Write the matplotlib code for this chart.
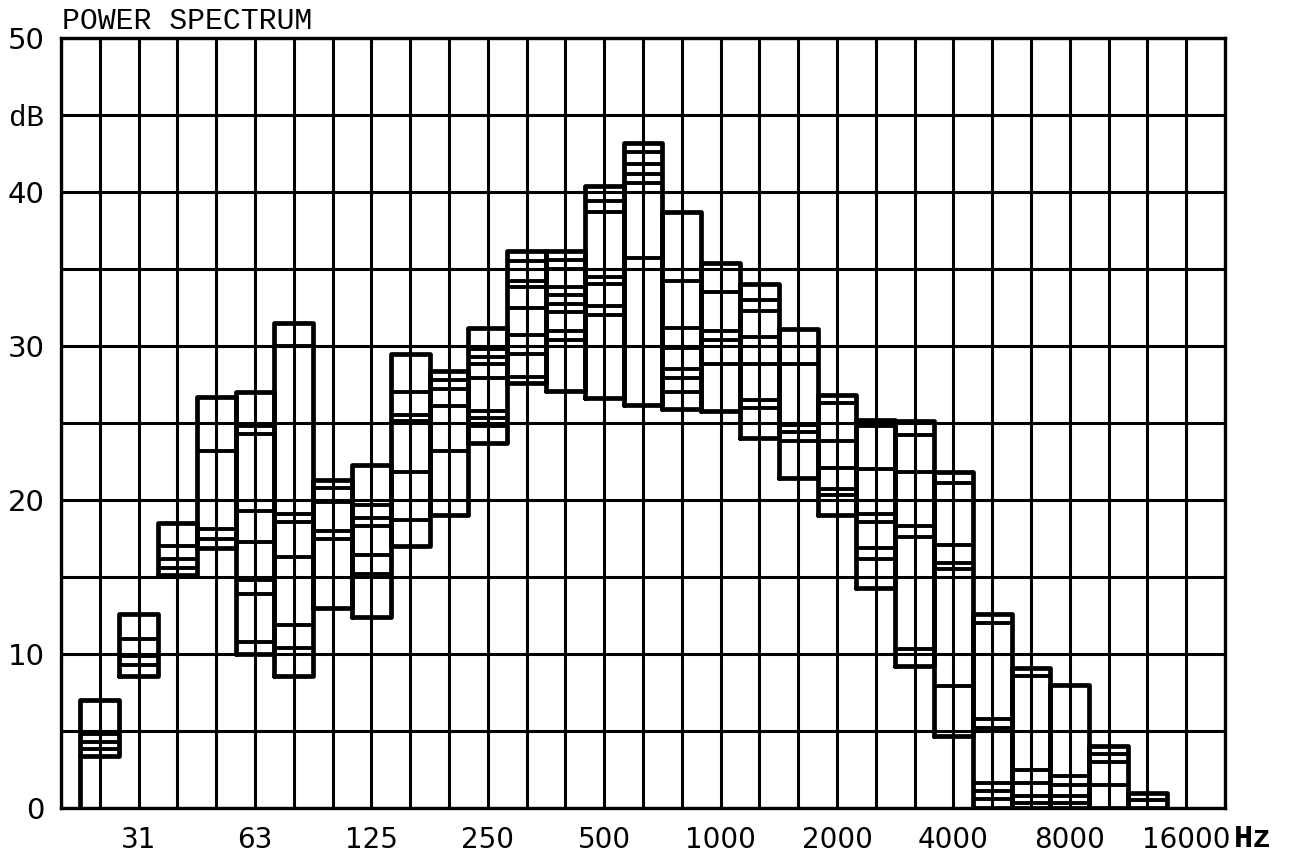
import matplotlib
matplotlib.use("Agg")
import matplotlib.pyplot as plt

# third-octave bands, 25 Hz .. 12.5 kHz
bands = ['25', '31.5', '40', '50', '63', '80', '100', '125', '160', '200',
         '250', '315', '400', '500', '630', '800', '1000', '1250', '1600', '2000',
         '2500', '3150', '4000', '5000', '6300', '8000', '10000', '12500']

# octave labels on the axis
octave_labels = ['31', '63', '125', '250', '500', '1000', '2000', '4000', '8000', '16000']

# highest and lowest level of every band (dB)
top_db = [7.0, 12.6, 18.5, 26.7, 27.0, 31.5, 21.3, 22.3, 29.5, 28.4,
          31.2, 36.2, 36.2, 40.4, 43.2, 38.7, 35.4, 34.0, 31.1, 26.8,
          25.2, 25.1, 21.8, 12.6, 9.1, 8.0, 4.0, 1.0]
bottom_db = [3.4, 8.6, 15.1, 16.9, 10.0, 8.6, 13.0, 12.4, 17.0, 19.0,
             23.7, 27.6, 27.1, 26.6, 26.2, 25.9, 25.8, 24.0, 21.4, 19.0,
             14.3, 9.2, 4.7, 0.0, 0.0, 0.0, 0.0, 0.0]

# levels of the other spectra in between
inner_db = [
    [4.8, 4.3, 3.8],
    [11.0, 9.9, 9.3],
    [17.0, 16.2, 15.6],
    [23.2, 18.1, 17.5],
    [24.8, 24.3, 19.3, 17.3, 14.8, 13.9, 10.8],
    [30.0, 19.1, 18.6, 16.3, 11.9, 10.4],
    [20.8, 19.9, 18.0, 17.5],
    [19.7, 18.8, 18.3, 16.4, 15.2],
    [27.0, 25.5, 25.1, 21.8, 18.7],
    [27.8, 27.2, 26.1, 23.2],
    [29.8, 29.3, 28.8, 27.9, 25.8, 25.3, 24.8],
    [35.5, 34.2, 33.8, 32.5, 30.7, 29.5, 28.0],
    [35.6, 35.0, 33.8, 33.3, 32.7, 32.2, 31.0, 30.4],
    [39.4, 38.7, 34.5, 34.0, 32.6, 32.0],
    [42.6, 41.8, 41.2, 40.6, 35.7],
    [34.2, 31.2, 29.9, 28.5, 27.9, 27.0],
    [33.5, 31.0, 30.4, 28.8],
    [33.0, 32.3, 30.6, 28.8, 26.5, 26.0],
    [28.8, 24.9, 24.4, 23.8],
    [26.3, 23.8, 22.1, 20.7, 20.3],
    [24.8, 22.0, 19.1, 18.6, 16.9, 16.2],
    [24.2, 21.8, 18.3, 17.6, 10.3],
    [21.1, 17.1, 15.9, 15.5, 7.9],
    [12.0, 5.8, 5.2, 1.6, 1.1, 0.6],
    [8.6, 2.5, 1.6, 0.8, 0.3],
    [2.1, 1.5, 0.8, 0.3],
    [3.5, 3.0, 1.5],
    [0.5],
]

W, H = 1292, 857
fig = plt.figure(figsize=(W / 100, H / 100), dpi=100)
ax = fig.add_axes([61 / W, 1 - 808 / H, (1225 - 61) / W, (808 - 38) / H])

n_cols = len(bands) + 2
ax.set_xlim(0, n_cols)
ax.set_ylim(0, 50)

# grid: one column per band, 5 dB rows
ax.set_xticks(range(n_cols + 1))
xlabels = [''] * (n_cols + 1)
for i, lab in enumerate(octave_labels):
    xlabels[2 + 3 * i] = lab
ax.set_xticklabels(xlabels, fontsize=20, family='DejaVu Sans')
ax.set_yticks(range(0, 55, 5))
ax.set_yticklabels(['0', '', '10', '', '20', '', '30', '', '40', 'dB', '50'],
                   fontsize=21, family='DejaVu Sans')
for lbl in ax.get_yticklabels():
    if lbl.get_text() == 'dB':
        lbl.set_family('Liberation Mono')
        lbl.set_fontsize(21)
ax.tick_params(length=0)
ax.tick_params(axis='y', pad=12)
ax.tick_params(axis='x', pad=13)
ax.grid(True, color='black', linewidth=2.2)
ax.set_axisbelow(True)
for s in ax.spines.values():
    s.set_linewidth(2.4)

lw = 3.4
for i in range(len(bands)):
    k = i + 1
    x0, x1 = k - 0.5, k + 0.5
    lo, hi = bottom_db[i], top_db[i]
    ax.plot([x0, x0, x1, x1, x0], [lo, hi, hi, lo, lo], color='black',
            linewidth=lw, solid_joinstyle='round', solid_capstyle='round', zorder=3)
    for v in inner_db[i]:
        ax.plot([x0, x1], [v, v], color='black', linewidth=lw - 0.6,
                solid_capstyle='butt', zorder=3)

# spectra start and end on the 0 dB line
ax.plot([0.5, 0.5], [0, bottom_db[0]], color='black', linewidth=lw, zorder=3)
ax.plot([len(bands) + 0.5] * 2, [0, bottom_db[-1]], color='black', linewidth=lw, zorder=3)

fig.text(62 / W, 1 - 29 / H, 'POWER SPECTRUM', family='Liberation Mono',
         fontsize=21.5, va='baseline', ha='left')
fig.text(1234 / W, 1 - 847 / H, 'Hz', family='Liberation Mono', fontweight='bold',
         fontsize=23, va='baseline', ha='left')

fig.savefig('out.png', dpi=100, facecolor='white')
